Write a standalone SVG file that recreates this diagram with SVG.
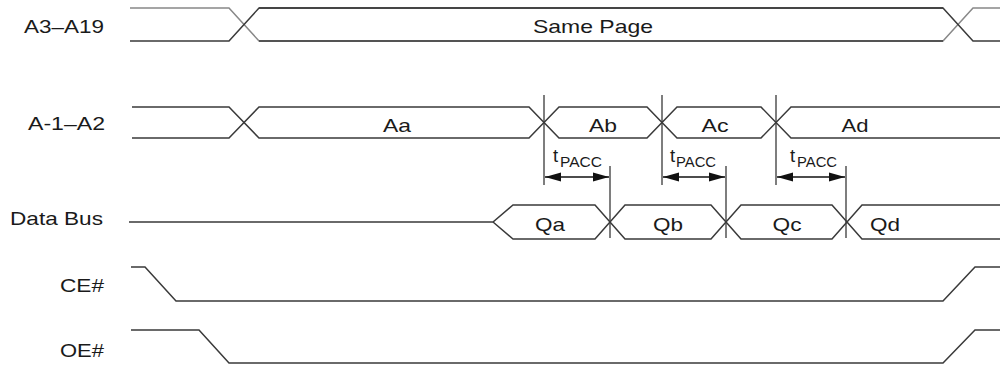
<svg xmlns="http://www.w3.org/2000/svg" width="1000" height="366" viewBox="0 0 1000 366">
<defs>
<marker id="ah" markerUnits="userSpaceOnUse" markerWidth="17" markerHeight="10" refX="16" refY="5" orient="auto-start-reverse">
<path d="M0,0.5 L16,5 L0,9.5 Z" fill="#111"/>
</marker>
</defs>
<style>
.sig{fill:none;stroke:#3a3a3a;stroke-width:1.5;stroke-linejoin:miter}
.vl{fill:none;stroke:#3a3a3a;stroke-width:1.3}
.lbl{font-family:"Liberation Sans",Arial,sans-serif;font-size:18.5px;fill:#1a1a1a}
.mid{text-anchor:middle}
.end{text-anchor:end}
.sub{font-family:"Liberation Sans",Arial,sans-serif;font-size:14px;fill:#1a1a1a}
.arr{fill:none;stroke:#111;stroke-width:1.5;marker-start:url(#ah);marker-end:url(#ah)}
</style>
<rect width="1000" height="366" fill="#fff"/>

<g id="a3-a19">
<path class="sig" d="M130,8 H229 L259,41 H943 L973,8 H1000" style="stroke:#888"/>
<path class="sig" d="M130,41 H229 L259,8 H943 L973,41 H1000"/>
<path class="sig" d="M259,8 H943 M259,41 H943"/>
<text class="lbl end" x="104" y="33" textLength="80" lengthAdjust="spacingAndGlyphs">A3–A19</text>
<text class="lbl mid" x="593" y="33" textLength="120" lengthAdjust="spacingAndGlyphs">Same Page</text>
</g>

<g id="a-1-a2">
<path class="sig" d="M132,107 H229 L259,138 H529 L559,107 H647 L677,138 H761 L791,107 H1000"/>
<path class="sig" d="M132,138 H229 L259,107 H529 L559,138 H647 L677,107 H761 L791,138 H1000"/>
<text class="lbl end" x="105" y="130" textLength="77" lengthAdjust="spacingAndGlyphs">A-1–A2</text>
<text class="lbl mid" x="397" y="132" textLength="28" lengthAdjust="spacingAndGlyphs">Aa</text>
<text class="lbl mid" x="603" y="132" textLength="28" lengthAdjust="spacingAndGlyphs">Ab</text>
<text class="lbl mid" x="715" y="132" textLength="27" lengthAdjust="spacingAndGlyphs">Ac</text>
<text class="lbl mid" x="855" y="132" textLength="27" lengthAdjust="spacingAndGlyphs">Ad</text>
</g>

<g id="data-bus">
<path class="sig" d="M129,222 H493 L513,205 H595 L625,239 H711 L741,205 H832 L862,239 H1000"/>
<path class="sig" d="M493,222 L513,239 H595 L625,205 H711 L741,239 H832 L862,205 H1000"/>
<text class="lbl" x="10" y="225" textLength="93" lengthAdjust="spacingAndGlyphs">Data Bus</text>
<text class="lbl mid" x="550" y="231" textLength="30" lengthAdjust="spacingAndGlyphs">Qa</text>
<text class="lbl mid" x="668" y="231" textLength="30" lengthAdjust="spacingAndGlyphs">Qb</text>
<text class="lbl mid" x="787" y="231" textLength="29" lengthAdjust="spacingAndGlyphs">Qc</text>
<text class="lbl mid" x="885" y="231" textLength="30" lengthAdjust="spacingAndGlyphs">Qd</text>
</g>

<g id="ce">
<path class="sig" d="M131,267 H145 L176,301 H943 L975,267 H1000"/>
<text class="lbl end" x="104" y="292" textLength="44" lengthAdjust="spacingAndGlyphs">CE#</text>
</g>

<g id="oe">
<path class="sig" d="M131,330 H199 L229,363 H943 L975,330 H1000"/>
<text class="lbl end" x="104" y="357" textLength="44" lengthAdjust="spacingAndGlyphs">OE#</text>
</g>

<g id="connectors">
<path class="vl" d="M544,95 V185 M662,95 V185 M776,95 V185"/>
<path class="vl" d="M610,166 V238 M726,166 V238 M846,166 V238"/>
<line class="arr" x1="545" y1="177" x2="609" y2="177"/>
<line class="arr" x1="663" y1="177" x2="725" y2="177"/>
<line class="arr" x1="777" y1="177" x2="845" y2="177"/>
</g>

<g id="tpacc-labels">
<text class="lbl" x="553" y="162">t</text><text class="sub" x="560" y="167" textLength="42" lengthAdjust="spacingAndGlyphs">PACC</text>
<text class="lbl" x="670" y="162">t</text><text class="sub" x="676" y="167" textLength="40" lengthAdjust="spacingAndGlyphs">PACC</text>
<text class="lbl" x="790" y="162">t</text><text class="sub" x="797" y="167" textLength="40" lengthAdjust="spacingAndGlyphs">PACC</text>
</g>
</svg>
